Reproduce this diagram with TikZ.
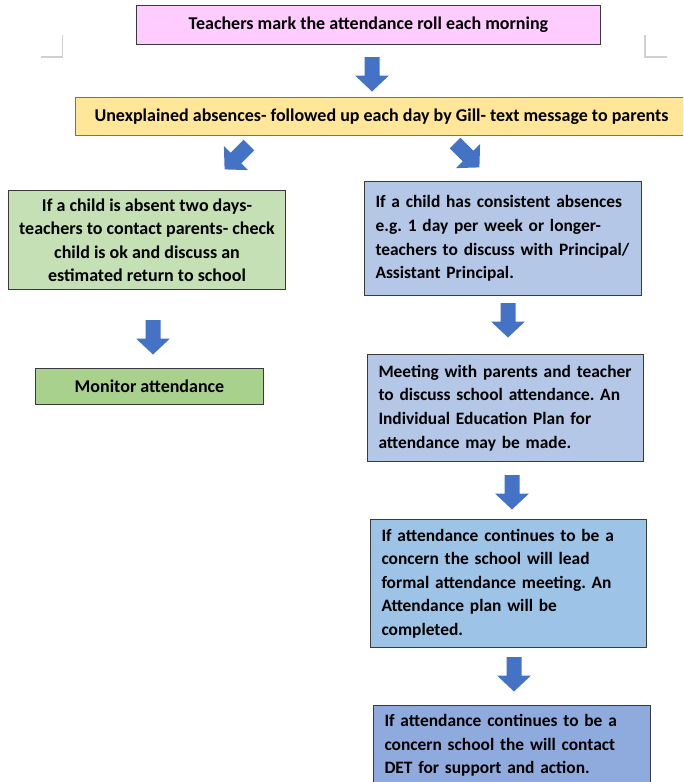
\documentclass[tikz,border=0pt]{standalone}
\usepackage{fontspec}
\setmainfont{Carlito}
\definecolor{pinkfill}{HTML}{FFCCFF}
\definecolor{yellowfill}{HTML}{FFE699}
\definecolor{yellowline}{HTML}{7F7350}
\definecolor{greenA}{HTML}{C5E0B4}
\definecolor{greenB}{HTML}{A9D18E}
\definecolor{blueA}{HTML}{B4C7E7}
\definecolor{blueB}{HTML}{9DC3E6}
\definecolor{blueC}{HTML}{8FAADC}
\definecolor{arrowblue}{HTML}{4472C4}
\definecolor{boxline}{HTML}{3A3A3A}
\definecolor{cornergray}{HTML}{D0D0D0}
\begin{document}
\frenchspacing
\begin{tikzpicture}[x=1pt,y=-1pt,
  box/.style={draw=boxline, line width=1pt, inner sep=0pt, anchor=north west,
    font=\bfseries\fontsize{18}{23.5}\selectfont},
  leftbox/.style={box, align=left, font=\bfseries\fontsize{17.4}{23.6}\selectfont},
  centerbox/.style={box, align=center},
  cornermark/.style={draw=cornergray, line width=1.2pt},
  blockarrow/.pic={\fill[arrowblue] (-7.5,0) -- (-7.5,18.5) -- (-17,18.5) -- (0,34.5) -- (17,18.5) -- (7.5,18.5) -- (7.5,0) -- cycle;}
]
\useasboundingbox (0,0) rectangle (683,782);
\clip (0,0) rectangle (683,782);

% corner marks
\draw[cornermark] (40.5,57) -- (62.5,57) -- (62.5,35);
\draw[cornermark] (645,35) -- (645,57) -- (667,57);

% boxes
\node[centerbox, fill=pinkfill, minimum width=464pt, minimum height=39pt] (roll) at (136,5)
  {Teachers mark the attendance roll each morning};
\node[centerbox, fill=yellowfill, draw=yellowline, minimum width=612pt, minimum height=38pt] (unexpl) at (75,97)
  {Unexplained absences- followed up each day by Gill- text message to parents};
\node[centerbox, fill=greenA, minimum width=277pt, minimum height=99pt] (twodays) at (8,190)
  {If a child is absent two days-\\teachers to contact parents- check\\child is ok and discuss an\\estimated return to school};
\node[centerbox, fill=greenB, minimum width=228pt, minimum height=36pt] (monitor) at (35,368)
  {Monitor attendance};
\node[leftbox, fill=blueA, text width=255pt, minimum width=277pt, minimum height=114pt] (consistent) at (364,181)
  {\mbox{If a child has consistent absences}\\\mbox{e.g. 1 day per week or longer-}\\\mbox{teachers to discuss with Principal/}\\\mbox{Assistant Principal.}\\[5pt]};
\node[leftbox, fill=blueA, text width=254pt, minimum width=276pt, minimum height=107pt] (meeting) at (367,354)
  {\mbox{Meeting with parents and teacher}\\\mbox{to discuss school attendance. An}\\\mbox{Individual Education Plan for}\\\mbox{attendance may be made.}\\[2pt]};
\node[leftbox, fill=blueB, text width=254pt, minimum width=276pt, minimum height=128pt] (formal) at (370,519)
  {\mbox{If attendance continues to be a}\\\mbox{concern the school will lead}\\\mbox{formal attendance meeting. An}\\\mbox{Attendance plan will be}\\\mbox{completed.}};
\node[leftbox, fill=blueC, text width=255pt, minimum width=277pt, minimum height=80pt] (det) at (373,705)
  {\mbox{If attendance continues to be a}\\\mbox{concern school the will contact}\\\mbox{DET for support and action.}};

% block arrows
\pic at (372,57) {blockarrow};
\pic[rotate=-45] at (249,145) {blockarrow};
\pic[rotate=45] at (455,143) {blockarrow};
\pic at (153,320) {blockarrow};
\pic at (508,303) {blockarrow};
\pic at (512,475) {blockarrow};
\pic at (514,657) {blockarrow};
\end{tikzpicture}
\end{document}
